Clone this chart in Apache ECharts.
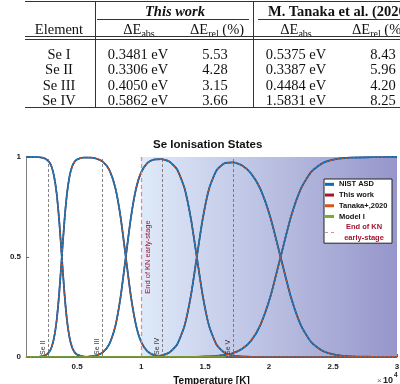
<!DOCTYPE html>
<html><head><meta charset="utf-8">
<script src="https://cdn.jsdelivr.net/npm/echarts@6/dist/echarts.min.js"></script>
<style>
html,body{margin:0;padding:0;width:400px;height:384px;overflow:hidden;background:#fff;}
#chart{position:absolute;left:0;top:0;width:400px;height:384px;}
#tbl{position:absolute;left:0;top:0;width:400px;height:112px;overflow:hidden;font-family:"Liberation Serif","Times New Roman",serif;font-size:14.5px;color:#111;}
.c{position:absolute;width:140px;margin-left:-70px;text-align:center;height:18px;line-height:18px;white-space:nowrap;}
.l{position:absolute;height:18px;line-height:18px;white-space:nowrap;}
.h{position:absolute;background:#333;height:1px;}
.v{position:absolute;background:#333;width:1px;}
sub{font-size:10px;vertical-align:-3px;line-height:0;}
</style></head><body>
<div id="chart"></div>
<div id="tbl"></div>
<script>
// ---------- table content ----------
const tableHead1 = ['This work', 'M. Tanaka et al. (2020)'];
const tableHead2 = ['Element', 'ΔE<sub>abs</sub>', 'ΔE<sub>rel</sub> (%)', 'ΔE<sub>abs</sub>', 'ΔE<sub>rel</sub> (%)'];
const tableElements = ['Se I', 'Se II', 'Se III', 'Se IV'];
const thisAbs = ['0.3481 eV', '0.3306 eV', '0.4050 eV', '0.5862 eV'];
const thisRel = ['5.53', '4.28', '3.15', '3.66'];
const tanakaAbs = ['0.5375 eV', '0.3387 eV', '0.4484 eV', '1.5831 eV'];
const tanakaRel = ['8.43', '5.96', '4.20', '8.25'];

// ---------- chart data ----------
const temps = [1000,2000,2500,2800,3000,3200,3400,3600,3800,4000,
  4200,4400,4600,4800,5000,5500,6000,6500,7000,7500,
  8000,8400,8800,9200,9600,10000,10500,11000,11600,12200,
  12800,13400,13900,14350,14800,15300,15900,16500,17200,17900,
  18600,19300,20100,20900,21700,22500,23300,24200,25200,26400,
  28000,30000];
const seI = [1,0.999,0.992,0.976,0.951,0.902,0.815,0.677,0.5,0.323,
  0.185,0.098,0.049,0.024,0.012,0.002,0,0,0,0,
  0,0,0,0,0,0,0,0,0,0,
  0,0,0,0,0,0,0,0,0,0,
  0,0,0,0,0,0,0,0,0,0,
  0,0];
const seII = [0,0.001,0.008,0.024,0.049,0.098,0.185,0.323,0.5,0.677,
  0.815,0.902,0.951,0.976,0.988,0.997,0.997,0.992,0.977,0.937,
  0.841,0.697,0.5,0.303,0.159,0.076,0.028,0.010,0.003,0.001,
  0,0,0,0,0,0,0,0,0,0,
  0,0,0,0,0,0,0,0,0,0,
  0,0];
const seIII = [0,0,0,0,0,0,0,0,0,0,
  0,0,0,0,0,0,0.003,0.008,0.023,0.063,
  0.159,0.303,0.5,0.697,0.841,0.923,0.971,0.987,0.989,0.977,
  0.939,0.842,0.688,0.5,0.312,0.158,0.061,0.022,0.007,0.002,
  0.001,0,0,0,0,0,0,0,0,0,
  0,0];
const seIV = [0,0,0,0,0,0,0,0,0,0,
  0,0,0,0,0,0,0,0,0,0,
  0,0,0,0,0,0,0.001,0.003,0.008,0.022,
  0.061,0.158,0.311,0.499,0.686,0.839,0.934,0.968,0.973,0.957,
  0.917,0.843,0.699,0.5,0.301,0.157,0.074,0.030,0.011,0.003,
  0.001,0];
const seV = [0,0,0,0,0,0,0,0,0,0,
  0,0,0,0,0,0,0,0,0,0,
  0,0,0,0,0,0,0,0,0,0,
  0,0,0.001,0.001,0.002,0.003,0.005,0.010,0.020,0.041,
  0.082,0.157,0.301,0.5,0.699,0.843,0.926,0.970,0.989,0.997,
  0.999,1];
const modelITemps = [1000, 16600];
const modelIVals = [0, 0];
const stateLabels = ['Se II', 'Se III', 'Se IV', 'Se V'];
const stateTemps = [2760, 6980, 11640, 17190];
const earlyStageT = 10000;
const xTickValues = [5000, 10000, 15000, 20000, 25000, 30000];
const legendNames = ['NIST ASD', 'This work', 'Tanaka+,2020', 'Model I', 'End of KN early-stage'];

// ---------- build table ----------
(function(){
  const t = document.getElementById('tbl');
  let h = '';
  const cell = (x, yc, html, extra) => `<div class="c" style="left:${x}px;top:${yc-9}px;${extra||''}">${html}</div>`;
  h += cell(175, 11, tableHead1[0], 'font-weight:bold;font-style:italic;');
  h += `<div class="l" style="left:268px;top:2px;font-weight:bold;">${tableHead1[1]}</div>`;
  const cx = [59, 139, 217, 296, 379];
  tableHead2.forEach((s,i)=>{ h += cell(cx[i], 29, s); });
  const rowsY = [53.5, 69, 84.5, 100];
  const dcx = [59, 138, 215, 296, 383];
  tableElements.forEach((e,r)=>{
    [e, thisAbs[r], thisRel[r], tanakaAbs[r], tanakaRel[r]].forEach((s,i)=>{ h += cell(dcx[i], rowsY[r], s); });
  });
  h += '<div class="h" style="left:25px;top:1px;width:380px"></div>';
  h += '<div class="h" style="left:97px;top:19px;width:152px"></div>';
  h += '<div class="h" style="left:258px;top:19px;width:150px"></div>';
  h += '<div class="h" style="left:25px;top:36px;width:380px"></div>';
  h += '<div class="h" style="left:25px;top:39px;width:380px"></div>';
  h += '<div class="h" style="left:25px;top:107px;width:380px"></div>';
  h += '<div class="v" style="left:95px;top:1px;height:107px"></div>';
  h += '<div class="v" style="left:253px;top:1px;height:107px"></div>';
  t.innerHTML = h;
})();

// ---------- chart ----------
const chart = echarts.init(document.getElementById('chart'), null, {renderer:'canvas'});
const states = [seI, seII, seIII, seIV, seV];
const sets = [
  {name:'This work', color:'#A2142F', type:'solid', width:1.5, z:3},
  {name:'NIST ASD', color:'#0072BD', type:'solid', width:1.8, z:4},
  {name:'Tanaka+,2020', color:'#D95319', type:[1.5,2.5], width:1.2, z:5}
];
const series = [];
series.push({
  type:'line', name:'bg', data:[], silent:true, z:1,
  markArea:{silent:true, itemStyle:{color:{type:'linear',x:0,y:0,x2:1,y2:0,colorStops:[
      {offset:0,color:'#dfeaf9'},{offset:1,color:'#9696cb'}]}},
    data:[[{xAxis:earlyStageT, yAxis:0},{xAxis:30000, yAxis:1}]]},
  markLine:{silent:true, symbol:['none','none'], animation:false,
    lineStyle:{color:'#666', type:[3,2], width:0.8},
    label:{show:true, position:'insideStartTop', formatter:'{b}', fontSize:7, color:'#333', distance:[2,2], fontFamily:'Liberation Sans'},
    data: stateLabels.map((n,i)=>({name:n, xAxis:stateTemps[i]}))}
});
sets.forEach(s=>{
  states.forEach(arr=>{
    series.push({type:'line', name:s.name, data: temps.map((t,i)=>[t, arr[i]]),
      showSymbol:false, smooth:0.2, z:s.z, color:s.color,
      itemStyle:{color:s.color},
      lineStyle:{color:s.color, width:s.width, type:s.type}});
  });
});
series.push({type:'line', name:'Model I', data: modelITemps.map((t,i)=>[t, modelIVals[i]]),
  showSymbol:false, z:6, color:'#77AC30', itemStyle:{color:'#77AC30'}, lineStyle:{color:'#77AC30', width:1.6}});
series.push({type:'line', name:'End of KN early-stage', data:[], z:2, color:'#E08898', itemStyle:{color:'#E08898'},
  markLine:{silent:true, symbol:['none','none'], animation:false,
    lineStyle:{color:'#E08898', type:[4,3], width:1.3},
    label:{show:true, position:'insideMiddleBottom', formatter:'End of KN early-stage', fontSize:7.5, color:'#A2142F', distance:3, fontFamily:'Liberation Sans'},
    data:[{xAxis:earlyStageT}]}});

const font = '"Liberation Sans", Arial, sans-serif';
chart.setOption({
  animation:false,
  textStyle:{fontFamily:font},
  title:{text:'Se Ionisation States', left:153, top:139, padding:0,
    textStyle:{fontSize:11.5, fontWeight:'bold', color:'#111', fontFamily:font}},
  grid:{left:26, right:3, top:157, bottom:27, containLabel:false, outerBoundsMode:'none'},
  legend:{
    orient:'vertical', left:324, top:179, padding:[0,3,0,1], itemGap:0,
    itemWidth:9, itemHeight:3, selectedMode:false,
    backgroundColor:'#fff', borderColor:'#222', borderWidth:1, borderRadius:0,
    textStyle:{fontSize:7.5, fontWeight:'bold', color:'#111', lineHeight:10.7, fontFamily:font,
      rich:{k:{fontSize:7.5, fontWeight:'bold', color:'#A2142F', lineHeight:10.7, width:50, align:'center', fontFamily:font}}},
    formatter: n => n === 'End of KN early-stage' ? '{k|End of KN}\n{k|early-stage}' : n,
    data: legendNames.map(n => n === 'End of KN early-stage'
      ? {name:n, icon:'path://M0,0H3V1H0ZM6,0H9V1H6Z'}
      : {name:n, icon:'rect'})
  },
  xAxis:{type:'value', min:1000, max:30000,
    axisLine:{lineStyle:{color:'#808080', width:1}},
    axisTick:{show:true, inside:true, length:3, customValues:xTickValues, lineStyle:{color:'#666'}},
    axisLabel:{customValues:xTickValues, formatter: v => String(v/10000), margin:6, fontSize:8, fontWeight:'bold', color:'#222', fontFamily:font},
    splitLine:{show:false},
    name:'Temperature [K]', nameLocation:'middle', nameGap:16,
    nameTextStyle:{fontSize:10, fontWeight:'bold', color:'#111', fontFamily:font}},
  yAxis:{type:'value', min:0, max:1, interval:0.5,
    axisLine:{show:true, lineStyle:{color:'#808080', width:1}},
    axisTick:{show:true, inside:true, length:3, lineStyle:{color:'#666'}},
    axisLabel:{fontSize:8, fontWeight:'bold', color:'#222', margin:5, fontFamily:font},
    splitLine:{show:false},
    name:'Ionisation fraction', nameLocation:'middle', nameGap:13,
    nameTextStyle:{fontSize:10, fontWeight:'bold', color:'#111', fontFamily:font}},
  graphic:[
    {type:'text', left:377, top:377, style:{text:'×', fontSize:8, fill:'#666', fontFamily:font}},
    {type:'text', left:383, top:376, style:{text:'10', fontSize:9, fontWeight:'bold', fill:'#222', fontFamily:font}},
    {type:'text', left:394, top:372, style:{text:'4', fontSize:6.5, fontWeight:'bold', fill:'#222', fontFamily:font}}
  ],
  series: series
});
</script>
</body></html>
